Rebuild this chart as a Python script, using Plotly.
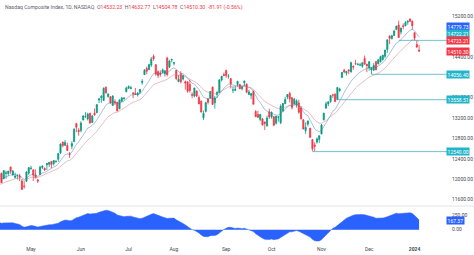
import pandas as pd
import plotly.graph_objects as go

# ---------------- data ----------------
holidays = ['2023-05-29', '2023-06-19', '2023-07-04', '2023-09-04',
            '2023-11-23', '2023-12-25', '2024-01-01']
dates = [d.strftime('%Y-%m-%d') for d in pd.bdate_range('2023-04-11', '2024-01-04')
         if d.strftime('%Y-%m-%d') not in holidays]

# closes before the visible window (Feb 1 - Apr 10 2023), used only for indicator warm-up
prior_close = [11816, 12201, 12007, 11887, 12114, 11911, 11790, 11718, 11892, 11960,
               12071, 11856, 11787, 11492, 11507, 11590, 11395, 11467, 11456,
               11379, 11463, 11689, 11676, 11530, 11576, 11338, 11139, 11189, 11428,
               11434, 11717, 11631, 11676, 11860, 11670, 11787, 11824, 11769, 11716,
               11926, 12013, 12222,
               12189, 12126, 11997, 12088, 12084]

open_px = [
    # Apr
    12110, 12110, 12009, 12115, 12108, 12240, 12082, 12035, 12070, 12064, 11964, 11864, 11958, 12116,
    # May
    12211, 12182, 12087, 11985, 12089, 12229, 12212, 12280, 12294, 12348, 12304, 12336, 12389, 12515,
    12729, 12661, 12662, 12499, 12644, 12736, 13092, 12957,
    # Jun
    12953, 13162, 13226, 13180, 13294, 13110, 13294, 13302, 13553, 13596, 13542, 13805, 13621, 13616,
    13447, 13520, 13503, 13379, 13526, 13582, 13716,
    # Jul
    13781, 13777, 13691, 13685, 13654, 13706, 13897, 14049, 14172, 14145, 14237, 14411, 14244, 14110,
    14087, 14091, 14067, 14376, 14195, 14336,
    # Aug
    14275, 14132, 13913, 14069, 13962, 13912, 13907, 13857, 13663, 13629, 13730, 13600, 13528, 13204,
    13330, 13575, 13590, 13806, 13497, 13659, 13695, 13943, 14050,
    # Sep
    14129, 14016, 13972, 13744, 13740, 13859, 13856, 13775, 13889, 13868, 13662, 13644, 13725, 13328,
    13269, 13172, 13180, 13121, 13043, 13317,
    # Oct
    13218, 13224, 13096, 13216, 13105, 13340, 13480, 13610, 13684, 13595, 13472, 13448, 13495, 13397,
    13164, 12950, 13077, 13000, 12775, 12669, 12727, 12778,
    # Nov
    12885, 13165, 13395, 13476, 13522, 13652, 13664, 13560, 13738, 13992, 14136, 14078, 14143, 14100,
    14213, 14270, 14242, 14237, 14214, 14367, 14256,
    # Dec
    14182, 14141, 14135, 14305, 14261, 14301, 14346, 14409, 14543, 14802, 14757, 14818, 14937, 15024,
    14885, 15009, 15006, 15078, 15142, 15099,
    # Jan
    14873, 14641, 14532.23]

high_px = [
    12120, 12132, 12179, 12166, 12159, 12240, 12180, 12128, 12088, 12102, 11995, 11963, 12154, 12227,
    12264, 12188, 12192, 12008, 12262, 12270, 12230, 12318, 12337, 12350, 12371, 12380, 12515, 12699,
    12731, 12769, 12715, 12532, 12741, 13007, 13104, 13000,
    13135, 13250, 13319, 13304, 13299, 13255, 13386, 13465, 13594, 13650, 13799, 13815, 13689, 13627,
    13644, 13565, 13521, 13556, 13617, 13603, 13816,
    13839, 13832, 13709, 13787, 13710, 13767, 13963, 14158, 14210, 14262, 14396, 14446, 14256, 14131,
    14134, 14171, 14131, 14402, 14340, 14362,
    14299, 14145, 14046, 14118, 14048, 13934, 13922, 13948, 13704, 13790, 13740, 13640, 13547, 13345,
    13518, 13582, 13725, 13813, 13633, 13722, 13965, 14026, 14092,
    14150, 14059, 13985, 13814, 13835, 13930, 13871, 13832, 13931, 13873, 13754, 13681, 13734, 13353,
    13340, 13276, 13200, 13131, 13246, 13382,
    13328, 13235, 13239, 13236, 13468, 13487, 13617, 13667, 13714, 13609, 13593, 13567, 13557, 13434,
    13174, 13113, 13151, 13003, 12788, 12725, 12820, 12855,
    13080, 13300, 13520, 13524, 13653, 13674, 13685, 13799, 13793, 14100, 14164, 14118, 14156, 14305,
    14231, 14339, 14283, 14279, 14293, 14424, 14261,
    14306, 14189, 14276, 14321, 14360, 14420, 14432, 14533, 14736, 14826, 14834, 14933, 15006, 15111,
    14969, 15056, 15100, 15114, 15150, 15112,
    14873, 14714, 14632.77]

low_px = [
    12004, 11926, 12004, 12011, 12067, 12104, 12067, 12010, 11995, 11963, 11798, 11815, 11942, 12084,
    12182, 11963, 12016, 11925, 12089, 12196, 12164, 12179, 12240, 12217, 12266, 12334, 12339, 12492,
    12624, 12659, 12554, 12416, 12587, 12725, 12923, 12853,
    12919, 13149, 13201, 13151, 13085, 13108, 13246, 13296, 13494, 13498, 13535, 13683, 13598, 13479,
    13440, 13454, 13335, 13377, 13521, 13544, 13704,
    13781, 13761, 13588, 13660, 13620, 13665, 13851, 14044, 14056, 14143, 14199, 14320, 14030, 13983,
    14010, 14081, 14014, 14016, 14188, 14290,
    14230, 13940, 13905, 13878, 13935, 13756, 13694, 13700, 13587, 13605, 13612, 13472, 13305, 13161,
    13310, 13466, 13574, 13454, 13382, 13593, 13690, 13915, 14018,
    13986, 13970, 13777, 13690, 13732, 13811, 13767, 13740, 13817, 13686, 13651, 13569, 13468, 13220,
    13207, 13135, 13048, 12963, 13032, 13179,
    13185, 13037, 13071, 13129, 13078, 13315, 13477, 13567, 13505, 13365, 13467, 13404, 13283, 13165,
    12979, 12888, 13035, 12804, 12548, 12544, 12696, 12707,
    12883, 13150, 13374, 13434, 13496, 13595, 13514, 13558, 13710, 13985, 14075, 14031, 14060, 14096,
    14145, 14237, 14237, 14219, 14184, 14239, 14099,
    14127, 14058, 14127, 14138, 14253, 14289, 14325, 14375, 14479, 14647, 14738, 14811, 14923, 14778,
    14836, 14937, 15005, 15028, 15087, 14936,
    14719, 14576, 14504.78]

close_px = [
    12032, 11929, 12166, 12123, 12158, 12153, 12157, 12060, 12072, 12037, 11799, 11854, 12142, 12227,
    12213, 12081, 12025, 11966, 12235, 12257, 12180, 12306, 12329, 12285, 12365, 12343, 12501, 12689,
    12658, 12721, 12560, 12484, 12698, 12976, 13017, 12935,
    13101, 13241, 13229, 13276, 13105, 13239, 13259, 13462, 13573, 13626, 13783, 13690, 13667, 13502,
    13631, 13493, 13336, 13556, 13592, 13591, 13788,
    13817, 13792, 13679, 13661, 13685, 13761, 13919, 14139, 14114, 14245, 14354, 14358, 14063, 14033,
    14059, 14145, 14127, 14050, 14317, 14346,
    14284, 13973, 13960, 13909, 14034, 13884, 13722, 13738, 13645, 13788, 13631, 13475, 13317, 13291,
    13498, 13506, 13721, 13464, 13591, 13705, 13944, 14019, 14035,
    14032, 14021, 13872, 13749, 13762, 13918, 13774, 13814, 13926, 13708, 13710, 13678, 13469, 13224,
    13212, 13271, 13064, 13093, 13201, 13219,
    13308, 13059, 13236, 13220, 13431, 13484, 13563, 13660, 13574, 13407, 13568, 13534, 13314, 13186,
    12984, 13018, 13140, 12821, 12596, 12643, 12789, 12851,
    13061, 13294, 13478, 13519, 13640, 13650, 13521, 13798, 13768, 14094, 14104, 14114, 14125, 14285,
    14200, 14266, 14251, 14241, 14282, 14258, 14226,
    14305, 14185, 14230, 14147, 14340, 14404, 14432, 14533, 14734, 14762, 14814, 14905, 15003, 14778,
    14964, 14993, 15075, 15099, 15095, 15011,
    14766, 14592.21, 14510.30]

# horizontal levels drawn on the chart (start date, price)
level_starts = ['2023-10-26', '2023-11-10', '2023-12-04', '2023-12-20']
level_prices = [12540.00, 13558.51, 14056.40, 14722.21]

# price-scale tags: value, colour, pixel offset for stacking
tag_values = [14779.73, 14722.21, 14723.21, 14510.30, 14056.40, 13558.51, 12540.00]
tag_colors = ['#2962ff', '#22b5c9', '#f23645', '#f23645', '#22b5c9', '#22b5c9', '#22b5c9']
tag_shift = [11, 7, 0, 0, 0, 0, 0]
osc_tag_value = 167.37

month_ticks = ['2023-05-01', '2023-06-01', '2023-07-03', '2023-08-01', '2023-09-01',
               '2023-10-02', '2023-11-01', '2023-12-01', '2024-01-02']
month_labels = ['May', 'Jun', 'Jul', 'Aug', 'Sep', 'Oct', 'Nov', 'Dec', '<b>2024</b>']
# 14800 and 14000 are hidden behind the price tags in the reference
price_ticks = [11600, 12000, 12400, 12800, 13200, 13600, 14400, 15200]
osc_ticks = [0, 250]

# ---------------- indicators (derived from closes) ----------------
full_close = pd.Series(prior_close + close_px, dtype=float)
n0 = len(prior_close)
ema_fast = full_close.ewm(span=10, adjust=False).mean().iloc[n0:].tolist()
ema_slow = full_close.ewm(span=20, adjust=False).mean().iloc[n0:].tolist()
macd = (full_close.ewm(span=12, adjust=False).mean()
        - full_close.ewm(span=26, adjust=False).mean()).iloc[n0:].tolist()

XR = [0.34, 197.3]
FONT = 'Roboto'

fig = go.Figure()
fig.add_trace(go.Candlestick(
    x=dates, open=open_px, high=high_px, low=low_px, close=close_px,
    increasing=dict(line=dict(color='#089981', width=0.8), fillcolor='#089981'),
    decreasing=dict(line=dict(color='#f23645', width=0.8), fillcolor='#f23645'),
    whiskerwidth=0, xaxis='x', yaxis='y', hoverinfo='skip'))
fig.add_trace(go.Scatter(x=dates, y=ema_fast, mode='lines',
                         line=dict(color='rgba(60,110,170,0.55)', width=0.8),
                         xaxis='x', yaxis='y', hoverinfo='skip'))
fig.add_trace(go.Scatter(x=dates, y=ema_slow, mode='lines',
                         line=dict(color='rgba(200,120,130,0.6)', width=0.8),
                         xaxis='x', yaxis='y', hoverinfo='skip'))
fig.add_trace(go.Scatter(x=dates, y=macd, mode='lines', fill='tozeroy',
                         line=dict(color='#2962ff', width=0.5), fillcolor='#2962ff',
                         xaxis='x2', yaxis='y2', hoverinfo='skip'))

shapes = []
for d, p in zip(level_starts, level_prices):
    shapes.append(dict(type='line', xref='x', yref='y', x0=dates.index(d), x1=XR[1],
                       y0=p, y1=p, line=dict(color='rgba(60,175,190,0.75)', width=1)))
shapes.append(dict(type='line', xref='paper', yref='paper', x0=0, x1=1.06, y0=0.159, y1=0.159,
                   line=dict(color='#e0e3eb', width=1)))

annotations = []
for v, c, s in zip(tag_values, tag_colors, tag_shift):
    annotations.append(dict(xref='paper', yref='y', x=1, y=v, xanchor='left', yanchor='middle',
                            xshift=-1, yshift=s, text=f'{v:.2f}', showarrow=False,
                            bgcolor=c, borderpad=0.6,
                            font=dict(family=FONT, size=5, color='white')))
annotations.append(dict(xref='paper', yref='y2', x=1, y=osc_tag_value, xanchor='left',
                        yanchor='middle', xshift=-1, text=f'{osc_tag_value:.2f}',
                        showarrow=False, bgcolor='#2962ff', borderpad=0.6,
                        font=dict(family=FONT, size=5, color='white')))
g = '#5d606b'
r = '#f23645'
title = (f'<span style="color:{g}">Nasdaq Composite Index, 1D, NASDAQ</span>&nbsp;&nbsp;'
         f'<span style="color:{g}">O</span><span style="color:{r}">{open_px[-1]:.2f}</span>&nbsp;&nbsp;'
         f'<span style="color:{g}">H</span><span style="color:{r}">{high_px[-1]:.2f}</span>&nbsp;&nbsp;'
         f'<span style="color:{g}">L</span><span style="color:{r}">{low_px[-1]:.2f}</span>&nbsp;&nbsp;'
         f'<span style="color:{g}">C</span><span style="color:{r}">{close_px[-1]:.2f}</span>&nbsp;&nbsp;'
         f'<span style="color:{r}">{close_px[-1]-close_px[-2]:.2f} ({(close_px[-1]/close_px[-2]-1)*100:.2f}%)</span>')
annotations.append(dict(xref='paper', yref='paper', x=0.006, y=1, xanchor='left', yanchor='top',
                        yshift=-2, text=title, showarrow=False,
                        font=dict(family=FONT, size=5.2, color=g)))

fig.update_layout(
    width=474, height=255, margin=dict(l=0, r=27, t=0, b=10),
    paper_bgcolor='white', plot_bgcolor='white', showlegend=False,
    font=dict(family=FONT, size=5, color='#434651'),
    xaxis=dict(domain=[0, 1], anchor='y', type='category', range=XR, showticklabels=False,
               showgrid=False, zeroline=False, showline=False, ticks='',
               rangeslider=dict(visible=False)),
    xaxis2=dict(domain=[0, 1], anchor='y2', type='category', matches='x', range=XR,
                tickmode='array', tickvals=month_ticks, ticktext=month_labels,
                tickfont=dict(family=FONT, size=5, color='#434651'),
                showgrid=False, zeroline=False, showline=False, ticks=''),
    yaxis=dict(domain=[0.161, 1], range=[11482, 15514], side='right', tickmode='array',
               tickvals=price_ticks, tickformat='.2f', showgrid=False, zeroline=False,
               showline=False, ticks='', ticklabelstandoff=4,
               tickfont=dict(family=FONT, size=5, color='#434651')),
    yaxis2=dict(domain=[0, 0.157], range=[-264, 400], side='right', tickmode='array',
                tickvals=osc_ticks, tickformat='.2f', showgrid=False, zeroline=False,
                showline=False, ticks='', ticklabelstandoff=4,
                tickfont=dict(family=FONT, size=5, color='#434651')),
    shapes=shapes, annotations=annotations,
)

fig.write_html('out.html')
